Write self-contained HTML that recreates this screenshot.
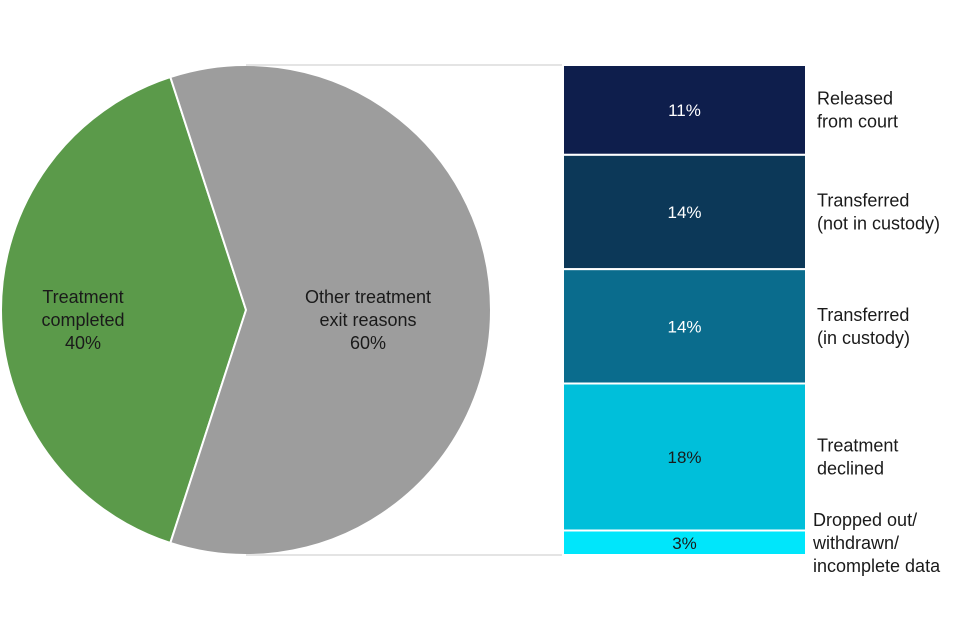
<!DOCTYPE html>
<html><head><meta charset="utf-8"><style>
html,body{margin:0;padding:0;background:#fff;}
svg{display:block;font-family:"Liberation Sans",Arial,sans-serif;}
</style></head><body>
<svg id="chart" width="960" height="640"></svg>
<script>
const pieLabels = ["Treatment\ncompleted\n40%", "Other treatment\nexit reasons\n60%"];
const pieValues = [40, 60];
const barCategories = ["Released\nfrom court", "Transferred\n(not in custody)", "Transferred\n(in custody)", "Treatment\ndeclined", "Dropped out/\nwithdrawn/\nincomplete data"];
const barValues = [11, 14, 14, 18, 3];
const barLabels = ["11%", "14%", "14%", "18%", "3%"];

const NS = "http://www.w3.org/2000/svg";
const svgEl = document.getElementById("chart");
function mk(tag, attrs, parent){const e=document.createElementNS(NS,tag);for(const k in attrs)e.setAttribute(k,attrs[k]);(parent||svgEl).appendChild(e);return e;}
function multiText(lines, x, y0, lh, attrs, name){
  const t=mk("text",Object.assign({x:x,y:y0,"text-anchor":"middle"},attrs));
  
  
  lines.forEach((l,i)=>{const s=mk("tspan",{x:x,dy:i?lh:0},t);s.textContent=l;});
  return t;
}

const cx=246, cy=310, r=245;
const pieTotal = pieValues.reduce((a,b)=>a+b,0);
const pieColors=["#5b9a4a","#9d9d9d"];
const startDeg = 180 - pieValues[0]/pieTotal*180;
function pt(deg){const a=deg*Math.PI/180;return [cx+r*Math.cos(a), cy-r*Math.sin(a)];}
let cur = startDeg;
const pieGroup = mk("g",{});


pieValues.forEach((v,i)=>{
  const sweep=v/pieTotal*360;
  const p1=pt(cur), p2=pt(cur+sweep);
  const large=sweep>180?1:0;
  const p=mk("path",{d:`M${cx},${cy} L${p1[0]},${p1[1]} A${r},${r} 0 ${large} 0 ${p2[0]},${p2[1]} Z`,fill:pieColors[i],stroke:"#fff","stroke-width":2},pieGroup);
  
  
  cur+=sweep;
});
multiText(pieLabels[0].split("\n"), 83, 303, 23, {"font-size":18,fill:"#1a1a1a"}, "label-treatment-completed");
multiText(pieLabels[1].split("\n"), 368, 303, 23, {"font-size":18,fill:"#1a1a1a"}, "label-other-exit-reasons");

const bx=563, bw=243, barTop=65, barBottom=555;
const barTotal = barValues.reduce((a,b)=>a+b,0);
const yScale = v => v/barTotal*(barBottom-barTop);
const barColors=["#0e1e4c","#0c3858","#0a6c8d","#00bfda","#00e6fb"];
const textColors=["#fff","#fff","#fff","#1a1a1a","#1a1a1a"];
const c1=mk("line",{x1:cx,y1:cy-r,x2:bx,y2:barTop,stroke:"#c8c8c8","stroke-width":1});


const c2=mk("line",{x1:cx,y1:cy+r,x2:bx,y2:barBottom,stroke:"#c8c8c8","stroke-width":1});


let yy=barTop;
barValues.forEach((v,i)=>{
  const h=yScale(v);
  const rc=mk("rect",{x:bx,y:yy,width:bw,height:h,fill:barColors[i],stroke:"#fff","stroke-width":2});
  
  
  const t=mk("text",{x:bx+bw/2,y:yy+h/2+6,"text-anchor":"middle","font-size":17,fill:textColors[i]});
  
  
  t.textContent=barLabels[i];
  const lines=barCategories[i].split("\n");
  const lh=23;
  const y0=yy+h/2 - (lines.length-1)*lh/2 + 6;
  const lt=mk("text",{x:817,y:y0,"font-size":18,fill:"#1a1a1a"});
  
  
  lines.forEach((l,j)=>{const s=mk("tspan",{x:813+(lines.length>2?0:4),dy:j?lh:0},lt);s.textContent=l;});
  yy+=h;
});
</script>
</body></html>
